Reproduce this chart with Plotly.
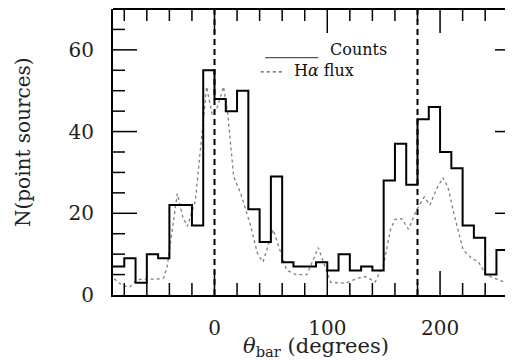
import plotly.graph_objects as go

# ---- data ----
bin_edges = [-90, -80, -70, -60, -50, -40, -30, -20, -10, 0, 10, 20, 30, 40, 50, 60,
             70, 80, 90, 100, 110, 120, 130, 140, 150, 160, 170, 180, 190, 200, 210,
             220, 230, 240, 250, 260, 270]
counts = [7, 9, 3, 10, 9, 22, 22, 17, 55, 48, 45, 50, 21, 13, 29, 8,
          7, 7, 8, 6, 10, 6, 7, 6, 28, 37, 27, 43, 46, 35, 31,
          17, 14, 5, 11, 8]

ha_theta = [-89, -85, -80, -75, -70, -65, -60, -55, -50, -45, -42, -33, -28, -24, -17,
            -12, -7, -2, 2.5, 8, 11.5, 17, 23, 32, 38, 43, 52, 58, 64, 72, 82, 92,
            100, 103, 116, 127, 134, 142.5, 150, 156, 160, 166, 172, 179, 186, 191,
            197, 202.5, 207, 213, 220.5, 228, 234, 241, 248.5, 257.5, 264, 270]
ha_flux = [4.0, 3.0, 2.2, 2.0, 3.5, 3.9, 3.9, 3.9, 3.9, 4.2, 6.9, 24.8, 19, 16.8, 23,
           37, 51, 44, 46, 51, 45, 29, 25, 17, 10.2, 8.1, 16, 11, 6.1, 5.0, 5.0, 11.6,
           5.3, 3.1, 2.9, 4.1, 4.5, 3.2, 7.5, 16, 18.5, 18.7, 16.1, 20.7, 24, 22,
           26, 28.7, 26.4, 19.1, 11, 9, 8.1, 4.9, 4.1, 3.1, 4.9, 6.0]

marker_angles = [0, 180]
legend_labels = ["Counts", "H<i>α</i> flux"]
x_range = [-90, 270]
y_range = [0, 70]
x_major = [0, 100, 200]
x_minor = [-80, -60, -40, -20, 20, 40, 60, 80, 120, 140, 160, 180, 220, 240, 260]
y_major = [20, 40, 60]
y_minor = [5, 10, 15, 25, 30, 35, 45, 50, 55, 65]

FONT = "DejaVu Serif"

# plot-area size in pixels (figure 513x360, margins below)
PLOT_W, PLOT_H = 513 - 105 - 2, 360 - 1 - 73
x_per_px = (x_range[1] - x_range[0]) / PLOT_W
y_per_px = (y_range[1] - y_range[0]) / PLOT_H
MAJOR_PX, MINOR_PX = 24, 12

fig = go.Figure()

fig.add_trace(go.Scatter(
    x=ha_theta, y=ha_flux, mode="lines",
    line=dict(color="#808080", width=1.3, dash="dot"),
    showlegend=False, hoverinfo="skip"))

fig.add_trace(go.Scatter(
    x=bin_edges, y=counts + [counts[-1]], mode="lines",
    line=dict(color="black", width=2, shape="hv"),
    showlegend=False, hoverinfo="skip"))

# inward tick marks on all four sides, drawn as one line trace
tx, ty = [], []
for vals, px in ((x_major, MAJOR_PX), (x_minor, MINOR_PX)):
    d = px * y_per_px
    for v in vals:
        tx += [v, v, None, v, v, None]
        ty += [y_range[0], y_range[0] + d, None, y_range[1], y_range[1] - d, None]
for vals, px in ((y_major, MAJOR_PX), (y_minor, MINOR_PX)):
    d = px * x_per_px
    for v in vals:
        tx += [x_range[0], x_range[0] + d, None, x_range[1], x_range[1] - d, None]
        ty += [v, v, None, v, v, None]
fig.add_trace(go.Scatter(x=tx, y=ty, mode="lines", connectgaps=False,
                         line=dict(color="black", width=1.5),
                         showlegend=False, hoverinfo="skip"))

for a in marker_angles:
    fig.add_shape(type="line", xref="x", yref="paper", x0=a, x1=a, y0=0, y1=1,
                  line=dict(color="black", width=2, dash="6px,4px"))

# top and right frame lines
fig.add_shape(type="line", xref="paper", yref="paper", x0=0, x1=1, y0=1, y1=1,
              line=dict(color="black", width=2))
fig.add_shape(type="line", xref="paper", yref="paper", x0=1, x1=1, y0=0, y1=1,
              line=dict(color="black", width=2))

# legend
fig.add_shape(type="line", xref="x", yref="y", x0=45, x1=92, y0=58.1, y1=58.1,
              line=dict(color="#555555", width=1.2))
fig.add_shape(type="line", xref="x", yref="y", x0=41, x1=60, y0=54.6, y1=54.6,
              line=dict(color="#555555", width=1.3, dash="dot"))
fig.add_annotation(x=100.5, y=60.0, xref="x", yref="y", text=legend_labels[0],
                   showarrow=False, xanchor="left", yanchor="middle",
                   font=dict(family=FONT, size=16, color="#111"))
fig.add_annotation(x=69, y=55.0, xref="x", yref="y", text=legend_labels[1],
                   showarrow=False, xanchor="left", yanchor="middle",
                   font=dict(family=FONT, size=16, color="#111"))

# axes: visible frame line + labels; transparent outside ticks only push labels away
axis_style = dict(ticks="outside", tickcolor="rgba(0,0,0,0)", showline=True,
                  linecolor="black", linewidth=2, showgrid=False, zeroline=False,
                  tickfont=dict(family=FONT, size=20, color="#222"))
fig.update_xaxes(range=x_range, tickmode="linear", tick0=0, dtick=100,
                 ticklen=14, **axis_style)
fig.update_yaxes(range=y_range, tickmode="linear", tick0=0, dtick=20,
                 ticklen=13, **axis_style)

# axis titles
fig.add_annotation(x=0.5, y=0, xref="paper", yref="paper", yshift=-52,
                   text="<i>θ</i><sub>bar</sub> (degrees)", showarrow=False,
                   xanchor="center", yanchor="middle",
                   font=dict(family=FONT, size=21, color="#222"))
fig.add_annotation(x=0, y=0.5, xref="paper", yref="paper", xshift=-90, yshift=10,
                   text="N(point sources)", textangle=-90, showarrow=False,
                   xanchor="center", yanchor="middle",
                   font=dict(family=FONT, size=20, color="#222"))

# page body has an 8px margin: plot area placed so it lands where the reference has it
fig.update_layout(
    width=513, height=360,
    margin=dict(l=105, r=2, t=1, b=73, autoexpand=False),
    paper_bgcolor="white", plot_bgcolor="white",
    showlegend=False,
)

fig.write_html("out.html")
